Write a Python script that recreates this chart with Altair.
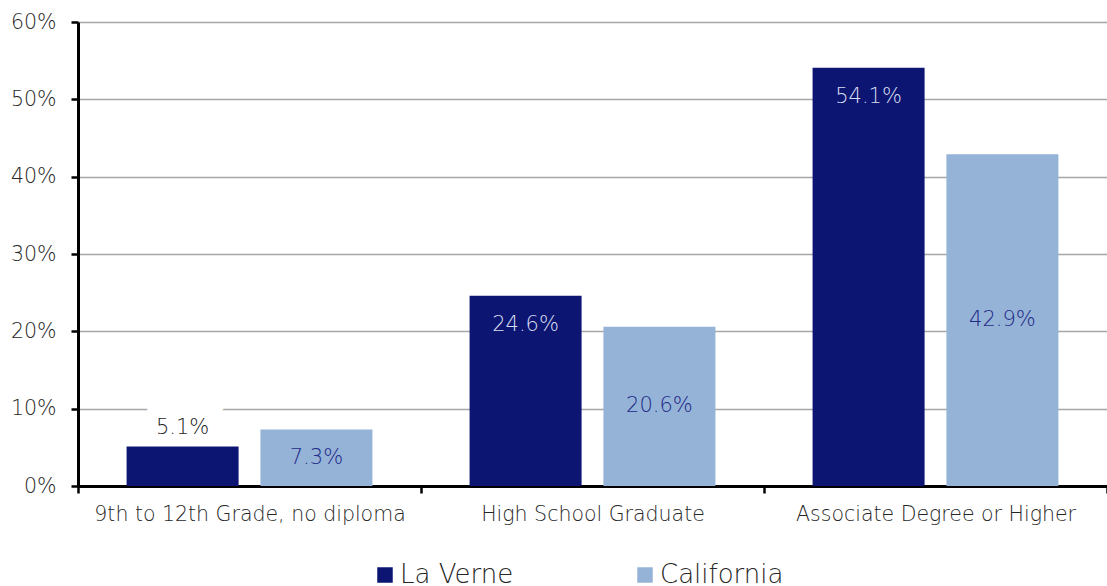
import altair as alt
import pandas as pd

categories = ["9th to 12th Grade, no diploma", "High School Graduate", "Associate Degree or Higher"]
series = ["La Verne", "California"]
la_verne = [5.1, 24.6, 54.1]
california = [7.3, 20.6, 42.9]
y_ticks = [0, 10, 20, 30, 40, 50, 60]
colors = ["#0c1672", "#95b3d7"]

rows = []
for s, vals in zip(series, [la_verne, california]):
    for c, v in zip(categories, vals):
        rows.append({"category": c, "series": s, "value": v})
df = pd.DataFrame(rows)
df["label"] = df["value"].map(lambda v: f"{v:.1f}%")
df["half"] = df["value"] / 2

FONT = "DejaVu Sans"
W = 300
TXT = "#262626"

x = alt.X("category:N", sort=categories,
          scale=alt.Scale(paddingInner=0, paddingOuter=0),
          axis=alt.Axis(title=None, labelAngle=0, tickBand="extent", labelFontSize=20.5,
                        labelColor=TXT, labelPadding=11, tickSize=7, tickWidth=2.5,
                        tickColor="black", domainColor="black", domainWidth=3, grid=False,
                        labelFont=FONT, labelFontWeight=W, labelLimit=400))
xo = alt.XOffset("series:N", sort=series,
                 scale=alt.Scale(paddingInner=0.163, paddingOuter=0.363))
yscale = alt.Scale(domain=[0, 60])
yaxis = alt.Axis(title=None, values=y_ticks, labelExpr="datum.value + '%'", labelFontSize=20.5,
                 labelColor=TXT, labelFont=FONT, labelFontWeight=W, tickSize=7,
                 tickWidth=2.5, tickColor="black", domainColor="black", domainWidth=3,
                 gridColor="#a6a6a6", gridWidth=1.5, labelPadding=15)

base = alt.Chart(df)

lv_small = base.transform_filter("datum.series == 'La Verne' && datum.value < 10")

label_box = lv_small.mark_text(
    dy=-19, fontSize=21, color="white", stroke="white", strokeWidth=22, font=FONT,
    baseline="middle"
).encode(x=x, xOffset=xo, y=alt.Y("value:Q", scale=yscale, axis=yaxis), text="label:N")

bars = base.mark_bar().encode(
    x=x, xOffset=xo,
    y=alt.Y("value:Q", scale=yscale, axis=yaxis),
    color=alt.Color("series:N", sort=series,
                    scale=alt.Scale(domain=series, range=colors),
                    legend=alt.Legend(title=None, orient="none", legendX=294, legendY=540,
                                      direction="horizontal", symbolType="square",
                                      symbolSize=240, symbolStrokeWidth=0,
                                      labelFontSize=26, labelColor=TXT, labelFont=FONT,
                                      labelFontWeight=W,
                                      columnPadding=118, labelOffset=2, labelLimit=300)),
)

lv_inside = base.transform_filter("datum.series == 'La Verne' && datum.value >= 10").mark_text(
    dy=29, fontSize=21, color="#d8dcf0", font=FONT, fontWeight=W, baseline="middle"
).encode(x=x, xOffset=xo, y=alt.Y("value:Q", scale=yscale), text="label:N")

lv_above = lv_small.mark_text(
    dy=-19, fontSize=21, color=TXT, font=FONT, fontWeight=W, baseline="middle"
).encode(x=x, xOffset=xo, y=alt.Y("value:Q", scale=yscale), text="label:N")

ca_mid = base.transform_filter("datum.series == 'California'").mark_text(
    fontSize=21, color="#1f2a88", font=FONT, fontWeight=W, baseline="middle"
).encode(x=x, xOffset=xo, y=alt.Y("half:Q", scale=yscale), text="label:N")

chart = alt.layer(label_box, bars, lv_inside, lv_above, ca_mid).properties(
    width=1029, height=464,
    autosize=alt.AutoSizeParams(type="none"),
    padding={"left": 78, "top": 22, "right": 0, "bottom": 100},
).configure_view(stroke=None)

chart.save("out.html", embed_options={"renderer": "svg", "actions": False})
